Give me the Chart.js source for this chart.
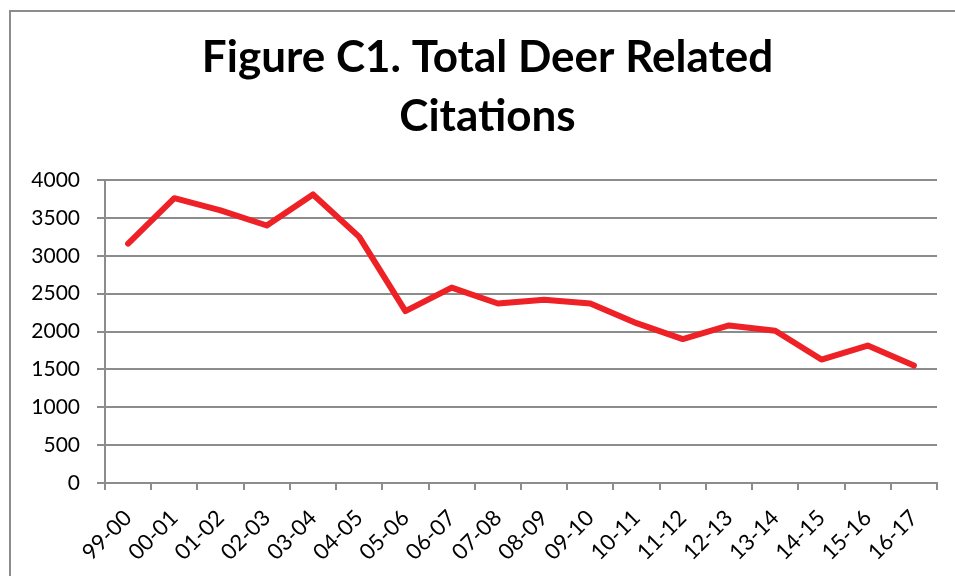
<!DOCTYPE html>
<html>
<head>
<meta charset="utf-8">
<script src="https://cdn.jsdelivr.net/npm/chart.js@4/dist/chart.umd.min.js"></script>
<style>
    html, body { margin: 0; padding: 0; background: #fff; overflow: hidden; }
    .frame { position: absolute; left: 9px; top: 10px; width: 1000px; height: 620px;
             border-left: 2px solid #8c8c8c; border-top: 2px solid #8c8c8c; }
    .wrap { position: absolute; left: 0; top: 0; width: 955px; height: 576px; }
</style>
</head>
<body>
<div class="frame"></div>
<div class="wrap"><canvas id="deerChart" width="955" height="576"></canvas></div>
<script>
// Season labels and total citations per season
const seasons = ['99-00', '00-01', '01-02', '02-03', '03-04', '04-05', '05-06', '06-07', '07-08',
                 '08-09', '09-10', '10-11', '11-12', '12-13', '13-14', '14-15', '15-16', '16-17'];
const citations = [3160, 3760, 3600, 3400, 3810, 3250, 2270, 2580, 2370,
                   2420, 2370, 2110, 1900, 2080, 2010, 1630, 1815, 1550];
const yTicks = [0, 500, 1000, 1500, 2000, 2500, 3000, 3500, 4000];

const gridGrey = '#8c8c8c';

document.addEventListener("DOMContentLoaded", function () {
    const ctx = document.getElementById('deerChart').getContext('2d');
    new Chart(ctx, {
        type: 'line',
        data: {
            labels: seasons,
            datasets: [{
                label: 'Total Deer Related Citations',
                data: citations,
                borderColor: '#ee2126',
                borderWidth: 6,
                pointRadius: 0,
                tension: 0,
                borderCapStyle: 'round',
                borderJoinStyle: 'round'
            }]
        },
        options: {
            responsive: false,
            animation: false,
            layout: { padding: { left: 20, right: 0, top: 0, bottom: 0 } },
            plugins: {
                legend: { display: false },
                tooltip: { enabled: false },
                title: {
                    display: true,
                    text: ['Figure C1. Total Deer Related', 'Citations'],
                    color: '#000',
                    font: { family: 'Lato', size: 44, weight: 'bold', lineHeight: 1.33 },
                    padding: { top: 29, bottom: 34 }
                }
            },
            scales: {
                x: {
                    offset: true,
                    grid: { offset: true, drawOnChartArea: false, drawTicks: true, tickLength: 7,
                            color: gridGrey, lineWidth: 2 },
                    border: { display: true, color: gridGrey, width: 2 },
                    ticks: { color: '#000', minRotation: 45, maxRotation: 45, autoSkip: false,
                             padding: 15, font: { family: 'Lato', size: 22 } },
                    afterFit: function (scale) { scale.height = 93; }
                },
                y: {
                    min: 0,
                    max: 4000,
                    afterBuildTicks: function (scale) { scale.ticks = yTicks.map(v => ({ value: v })); },
                    grid: { color: gridGrey, lineWidth: 2, drawTicks: true, tickLength: 8 },
                    border: { display: true, color: gridGrey, width: 2 },
                    ticks: { color: '#000', padding: 17, font: { family: 'Lato', size: 21 },
                             callback: function (v) { return String(v); } },
                    afterFit: function (scale) { scale.width = 85; }
                },
                // empty right-hand spacer so the plot ends where the original does
                spacer: {
                    position: 'right',
                    min: 0,
                    max: 4000,
                    grid: { display: false },
                    border: { display: false },
                    ticks: { display: false },
                    afterFit: function (scale) { scale.width = 18; }
                }
            }
        }
    });
});
</script>
</body>
</html>
